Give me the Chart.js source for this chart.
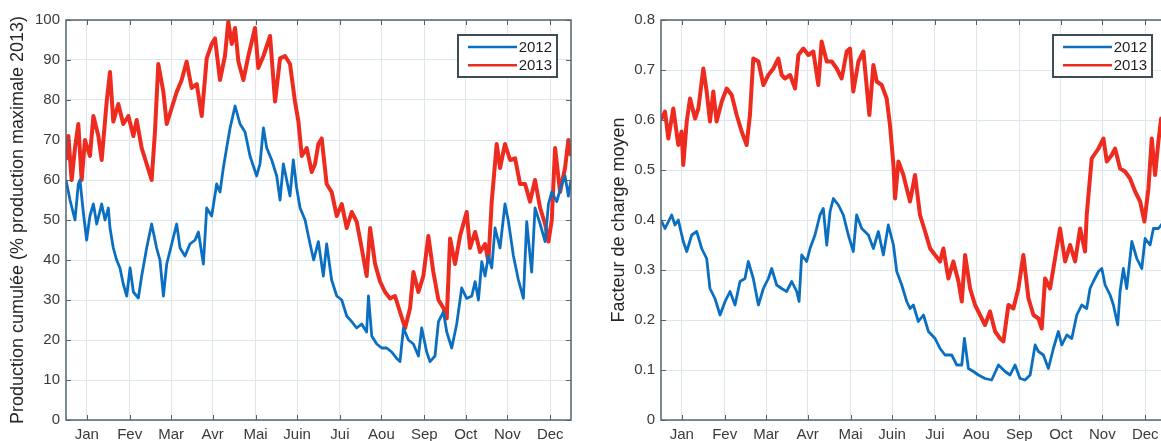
<!DOCTYPE html>
<html>
<head>
<meta charset="utf-8">
<script src="https://cdn.jsdelivr.net/npm/chart.js@4"></script>
<style>
html, body { margin: 0; padding: 0; background: #fff; overflow: hidden; width: 1161px; height: 441px; }
#left { position: absolute; left: 0; top: 0; }
#right { position: absolute; left: 590px; top: 0; }
</style>
</head>
<body>
<canvas id="left" width="590" height="441"></canvas>
<canvas id="right" width="600" height="441"></canvas>
<script>
// mois (positions des ticks en jours)
const months = ['Jan', 'Fev', 'Mar', 'Avr', 'Mai', 'Juin', 'Jui', 'Aou', 'Sep', 'Oct', 'Nov', 'Dec'];
const monthDays = [15, 46, 76, 106, 137, 167, 198, 228, 259, 289, 319, 350];

// Production cumulée (%) - 2012
const prodDays2012 = [0,2.9,6.5,8.9,10.1,12.5,14.9,17.3,19.8,22.2,25.8,28.2,30.6,31.8,34.2,36.6,39,41.4,43.9,46.3,
  48.7,52.3,54.7,58.3,61.9,65.5,67.9,70.4,72.8,76.4,80,82.4,86,89.6,93.3,95.7,99.3,101.7,105.3,108.9,
  111.3,113.7,116.1,118.6,122.2,125.8,129.4,133,137.8,140.2,142.7,145.1,148.7,152.3,154.7,157.1,161.9,164.3,166.7,169.2,
  172.8,176.4,179,182.4,186,188.4,192,195.7,199.3,202.9,206.5,210.1,213.7,217.3,218.6,221,224.6,228.2,231.8,235.4,
  239,241.4,243.9,247.5,251.1,254.7,257.1,260.7,263.1,266.7,269.2,272.8,275.2,278.8,282.4,286,289.6,293.3,295.7,298.1,
  300.5,302.9,305.3,307.7,310.1,313.7,317.3,319.8,323.4,327,330.6,333,335.4,336.6,339,342.7,346.3,348.7,351.1,354.7,
  358.3,360.7,363.1,365];
const prod2012 = [60,55,50,59,60,52,45,51,54,49,54,50,53,48,43,40,38,34,31,38,
  32,30.5,36,43,49,43,40,31,39,44,49,43,41,44,45,47,39,53,51,59,
  57,63,68,73,78.5,74,72,66,61,64,73,68,65,61,55,64,56,65,58,53,
  50,44,40,44.6,36,44,35,31,30,26,24.6,23,24,22,31,21,19,18,18,17,
  15.4,14.6,23,20,19,16,23,17,14.6,16,24.6,27,22,18,24,33,30.4,31,34.6,30,
  39.6,36,41,38,48,43,54,49.6,41,35,30.4,49.6,41,37,53,49,44.6,54,57,54.6,
  59,61,56,60];

// Production cumulée (%) - 2013
const prodDays2013 = [0,1.7,4.1,6.5,8.9,11.3,13.7,17.3,19.8,23.4,25.8,29.4,31.8,34.2,37.8,41.4,45.1,48.7,51.1,54.7,
  58.3,61.9,64.3,66.7,70.4,72.8,76.4,80,83.6,87.2,90.8,94.5,98.1,101.7,105.3,107.7,111.3,114.9,117.3,119.8,
  122.2,124.6,128.2,131.8,136.6,139,142.7,147.5,151.1,154.7,158.3,161.9,165.5,168,170.4,174,177.6,
  180,182.4,184.8,188.4,192,195.7,199.3,202.9,206.5,210.1,213.7,217.3,219.8,223.4,227,230.6,234.2,237.8,241.4,245.1,
  248.7,251.1,254.7,258.3,261.9,265.5,269.2,272.8,275.2,277.6,281.2,284.8,289.6,292,295.7,299.3,302.9,305.3,307.7,311.3,
  313.7,317.3,321,324.6,328.2,331.8,335.4,339,342.7,346.3,348.7,351.1,353.5,357.1,360.7,363.1,365];
const prod2013 = [65,71,60,68,74,60,70,66,76,71,65,79.6,87,74.6,79,74,76,71,75,68,
  64,60,72,89,82,74,78,82,85,89.6,83,84,76,90.4,94,95.4,85,91,99.6,94,
  98,89.6,85,91,98,88,91,96,79.6,90.4,91,89,79.6,74.6,66,68,62,
  64,69,70.4,59,57,51,54,48,52,49.6,43,36,48,39,34.6,32,30.4,31,27,23,
  28,37,32,36,46,37,30,28,25.4,45.4,39,46,52,43,47,42,44,39.6,54.6,69,
  63,69,65,65.4,59,59,54.6,60,53,49,44.6,50,68,57,63,70,66];

// Facteur de charge moyen - 2012
const chargeDays2012 = [0,2.9,7.7,10.1,12.5,16.1,18.6,22.2,25.8,29.4,33,35.4,39,42.7,46.3,49.9,53.5,57.1,60.7,63.1,
  66.7,70.4,74,77.6,80,83.6,87.2,90.8,94.5,98.1,99.8,101.7,105.3,107.7,111.3,114.9,117.3,119.8,122.2,124.6,
  128.2,131.8,135.4,139,141.4,145.1,149.9,153.5,157.1,160.7,164.3,168,170.4,174,177.6,180,182.4,186,189.7,193.3,
  198.1,201.7,205.3,210.1,213.8,217.4,219.3,222.2,225.8,229.4,234.2,239,243.9,248.7,252.3,255.9,259.5,263.1,266.8,270.4,
  272.8,276.4,280,283.6,287.2,289.7,293.3,296.9,300.5,304.1,307.7,310.1,312.5,316.2,318.6,321,324.6,327,330.1,331.8,
  334.2,336.6,340.3,343.9,347.5,349.9,353.5,355.9,359.5,361.5,365];
const charge2012 = [0.40,0.383,0.41,0.39,0.40,0.357,0.337,0.37,0.377,0.343,0.323,0.263,0.243,0.21,0.237,0.257,0.23,0.277,0.283,0.317,
  0.283,0.23,0.263,0.283,0.303,0.27,0.263,0.257,0.277,0.257,0.237,0.33,0.317,0.343,0.37,0.41,0.423,0.35,0.417,0.443,
  0.43,0.41,0.37,0.337,0.41,0.383,0.37,0.343,0.377,0.33,0.39,0.35,0.297,0.27,0.237,0.223,0.23,0.197,0.21,0.177,
  0.163,0.143,0.13,0.13,0.11,0.11,0.163,0.103,0.097,0.09,0.083,0.08,0.11,0.097,0.09,0.11,0.083,0.08,0.09,0.15,
  0.137,0.13,0.103,0.143,0.177,0.15,0.17,0.163,0.21,0.23,0.223,0.263,0.277,0.297,0.303,0.27,0.25,0.23,0.19,0.257,
  0.303,0.263,0.357,0.323,0.303,0.363,0.35,0.383,0.383,0.39,0.40];

// Facteur de charge moyen - 2013
const chargeDays2013 = [0,2.9,5.3,8.9,12.5,14.9,16.1,18.6,21,24.6,27,30.6,33,35.4,37.8,40.2,43.9,47.5,51.1,54.7,
  58.3,61.9,64.3,66.7,70.4,74,77.6,81.2,84.8,87.2,89.6,93.3,96.9,99.3,102.9,106.5,110.1,113.7,116.1,119.8,
  123.4,127,130.6,134.2,136.6,139,142.7,146.3,150.6,153.5,155.9,159.5,163.1,165.5,168,169.2,171.6,175.2,177.6,180,
  183.6,187.2,190.9,194.5,198.1,201.7,204.1,207.7,211.3,215,217.4,219.8,223.4,227,230.6,234.2,237.8,241.5,245.1,247.5,
  251.1,254.7,258.3,261.9,265.6,269.2,272.8,275.2,277.6,281.2,284.8,288.4,292.1,295.7,299.3,302.9,306.5,307.7,311.3,316.2,
  319.8,322.2,325.8,328.2,331.8,335.4,339,342.7,346.3,349.4,352.3,354.7,357.1,359.5,361.5,365];
const charge2013 = [0.60,0.617,0.563,0.623,0.55,0.577,0.51,0.597,0.643,0.603,0.623,0.703,0.657,0.597,0.657,0.597,0.637,0.663,0.65,0.61,
  0.577,0.55,0.61,0.723,0.717,0.67,0.69,0.703,0.723,0.69,0.683,0.69,0.663,0.73,0.743,0.73,0.737,0.67,0.757,0.717,
  0.717,0.703,0.683,0.737,0.743,0.657,0.717,0.737,0.61,0.71,0.677,0.67,0.643,0.59,0.51,0.443,0.517,0.49,0.463,0.437,
  0.49,0.41,0.377,0.343,0.33,0.317,0.343,0.283,0.317,0.277,0.237,0.33,0.263,0.23,0.21,0.19,0.217,0.177,0.163,0.157,
  0.23,0.223,0.263,0.33,0.243,0.21,0.203,0.183,0.283,0.263,0.323,0.383,0.317,0.35,0.317,0.383,0.337,0.41,0.523,0.543,
  0.563,0.517,0.53,0.543,0.503,0.497,0.483,0.457,0.437,0.397,0.463,0.563,0.49,0.557,0.603,0.58];

const blue = '#0b6fc1';
const red = '#ee2b1f';
const gridColor = '#dde5ed';
const axisColor = '#52656f';
const textColor = '#3a3a3a';
const fontFamily = '"Liberation Sans", Arial, Helvetica, sans-serif';

const toPoints = (days, vals) => days.map((d, i) => ({ x: d, y: vals[i] }));

// boite, ticks vers l'intérieur et légende façon Matlab
const matlabBox = {
  id: 'matlabBox',
  afterDraw(chart) {
    const { ctx, chartArea: a } = chart;
    const xs = chart.scales.x, ys = chart.scales.y;
    ctx.save();
    ctx.strokeStyle = axisColor;
    ctx.lineWidth = 1.5;
    ctx.strokeRect(a.left, a.top, a.right - a.left, a.bottom - a.top);
    ctx.beginPath();
    xs.ticks.forEach(t => {
      const px = Math.round(xs.getPixelForValue(t.value)) + 0.5;
      ctx.moveTo(px, a.bottom); ctx.lineTo(px, a.bottom - 5);
      ctx.moveTo(px, a.top); ctx.lineTo(px, a.top + 5);
    });
    ys.ticks.forEach(t => {
      const py = Math.round(ys.getPixelForValue(t.value)) + 0.5;
      ctx.moveTo(a.left, py); ctx.lineTo(a.left + 5, py);
      ctx.moveTo(a.right, py); ctx.lineTo(a.right - 5, py);
    });
    ctx.lineWidth = 1;
    ctx.stroke();

    // légende
    const w = 99, h = 42;
    const bx = a.right - 14 - w, by = a.top + 15;
    ctx.fillStyle = '#fff';
    ctx.fillRect(bx, by, w, h);
    ctx.strokeStyle = '#3e4c53';
    ctx.lineWidth = 2;
    ctx.strokeRect(bx, by, w, h);
    chart.data.datasets.forEach((ds, i) => {
      const ly = by + 12 + i * 18.3;
      ctx.strokeStyle = ds.borderColor;
      ctx.lineWidth = 2.5;
      ctx.beginPath();
      ctx.moveTo(bx + 10, ly); ctx.lineTo(bx + 59, ly);
      ctx.stroke();
      ctx.fillStyle = '#1e1e1e';
      ctx.font = '15px ' + fontFamily;
      ctx.textAlign = 'right';
      ctx.textBaseline = 'middle';
      ctx.fillText(ds.label, bx + w - 5, ly + 1);
    });
    ctx.restore();
  }
};

function makeChart(id, d12, d13, yMax, yStep, yTitle, axisWidth, titlePad, tickFmt) {
  return new Chart(document.getElementById(id), {
    type: 'line',
    data: {
      datasets: [
        { label: '2012', data: d12, borderColor: blue, borderWidth: 2.8, borderJoinStyle: 'round', pointRadius: 0, fill: false },
        { label: '2013', data: d13, borderColor: red, borderWidth: 4, borderJoinStyle: 'round', pointRadius: 0, fill: false }
      ]
    },
    options: {
      responsive: false,
      animation: false,
      events: [],
      layout: { padding: { top: 20, right: document.getElementById(id).width - axisWidth - 505, bottom: 0, left: 0 } },
      plugins: { legend: { display: false }, tooltip: { enabled: false } },
      scales: {
        x: {
          type: 'linear',
          min: 0,
          max: 365,
          afterBuildTicks: s => { s.ticks = monthDays.map(v => ({ value: v })); },
          afterFit: s => { s.height = 21; },
          ticks: {
            autoSkip: false,
            maxRotation: 0,
            padding: 6,
            color: textColor,
            font: { family: fontFamily, size: 15 },
            callback: (v, i) => months[i]
          },
          grid: { color: gridColor, drawTicks: false },
          border: { display: false }
        },
        y: {
          min: 0,
          max: yMax,
          afterFit: s => { s.width = axisWidth; },
          ticks: {
            stepSize: yStep,
            padding: 6,
            color: textColor,
            font: { family: fontFamily, size: 15 },
            callback: tickFmt
          },
          grid: { color: gridColor, drawTicks: false },
          border: { display: false },
          title: {
            display: true,
            text: yTitle,
            color: '#262626',
            font: { family: fontFamily, size: 18 },
            padding: { top: titlePad, bottom: 0 }
          }
        }
      }
    },
    plugins: [matlabBox]
  });
}

makeChart('left', toPoints(prodDays2012, prod2012), toPoints(prodDays2013, prod2013),
  100, 10, 'Production cumulée (% production maximale 2013)', 66, 7, v => String(v));

makeChart('right', toPoints(chargeDays2012, charge2012), toPoints(chargeDays2013, charge2013),
  0.8, 0.1, 'Facteur de charge moyen', 71, 18, v => (v === 0 ? '0' : v.toFixed(1)));
</script>
</body>
</html>
